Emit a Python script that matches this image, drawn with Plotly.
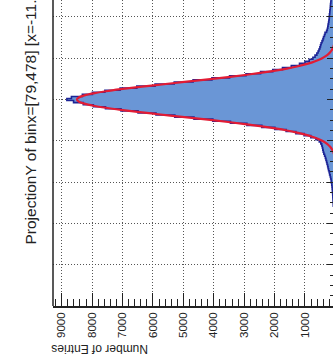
import plotly.graph_objects as go

# ---------------- data ----------------
BIN_WIDTH = 0.05
FIRST_CENTER = -2.60
# histogram counts per bin, from y=-2.60 upward to y=2.45
entries = [
    66, 70, 73, 77, 80, 84, 88, 92, 98, 105,
    112, 120, 130, 140, 155, 170, 190, 205, 225, 240,
    255, 275, 290, 310, 330, 355, 380, 400, 415, 430,
    450, 480, 530, 640, 810, 1030, 1300, 1620, 1990, 2420,
    2910, 3450, 4030, 4650, 5280, 5900, 6490, 7050, 7560, 7960,
    8290, 8610, 8830, 8680, 8320, 7990, 7580, 7080, 6530, 5930,
    5300, 4680, 4060, 3480, 2940, 2460, 2060, 1740, 1450, 1180,
    1000, 860, 740, 670, 610, 570, 540, 510, 490, 470,
    440, 410, 390, 360, 340, 290, 265, 250, 240, 225,
    215, 205, 200, 195, 185, 180, 170, 165, 160, 150,
    145, 140,
]

FIT_START = -1.60
FIT_STEP = 0.05
fit_values = [
    4, 7, 10, 16, 25, 38, 56, 82, 117, 166,
    232, 320, 434, 580, 764, 991, 1267, 1595, 1979, 2419,
    2913, 3457, 4041, 4654, 5281, 5904, 6503, 7058, 7547, 7950,
    8251, 8437, 8500, 8437, 8251, 7950, 7547, 7058, 6503, 5904,
    5281, 4654, 4041, 3457, 2913, 2419, 1979, 1595, 1267, 991,
    764, 580, 434, 320, 232, 166, 117, 82, 56, 38,
    25, 16, 10, 7, 4,
]

x_tick_values = [0, 1000, 2000, 3000, 4000, 5000, 6000, 7000, 8000, 9000]

title_text = "ProjectionY of binx=[79,478] [x=-11.0..8.9]"
value_axis_title = "Number of Entries"

# ---------------- derived positions ----------------
centers = [round(FIRST_CENTER + i * BIN_WIDTH, 3) for i in range(len(entries))]
fit_y = [round(FIT_START + i * FIT_STEP, 3) for i in range(len(fit_values))]

FONT = "Liberation Sans, Arial, Helvetica, sans-serif"
INK = "#222222"

fig = go.Figure()

fig.add_trace(go.Scatter(
    x=entries, y=centers, mode="lines",
    line=dict(shape="vhv", color="rgb(28,36,150)", width=1.6),
    fill="tozerox", fillcolor="rgb(106,150,214)",
    hoverinfo="skip", showlegend=False,
))

fig.add_trace(go.Scatter(
    x=fit_values, y=fit_y, mode="lines",
    line=dict(shape="spline", color="rgb(226,28,52)", width=2.2),
    hoverinfo="skip", showlegend=False,
))

fig.update_layout(
    width=333, height=358,
    margin=dict(l=53, r=0, t=0, b=52, pad=0),
    paper_bgcolor="white", plot_bgcolor="white",
    font=dict(family=FONT, color=INK),
    xaxis=dict(
        range=[9286, 79],
        tickmode="array", tickvals=x_tick_values, tickformat="d",
        ticks="inside", ticklen=13, tickwidth=1, tickcolor=INK,
        tickangle=-90, tickfont=dict(family=FONT, size=11.5, color=INK),
        showgrid=True, gridcolor="#555555", griddash="1px,2px", gridwidth=1,
        showline=True, linecolor=INK, linewidth=1.5,
        zeroline=False,
        minor=dict(dtick=200, tick0=0, ticks="inside", ticklen=7,
                   tickwidth=1, tickcolor=INK, showgrid=False),
    ),
    yaxis=dict(
        range=[-5, 2.41], side="right",
        tickmode="linear", tick0=0, dtick=1,
        ticks="inside", ticklen=6, tickwidth=1, tickcolor=INK,
        showticklabels=False,
        showgrid=True, gridcolor="#555555", griddash="1px,2px", gridwidth=1,
        showline=False, zeroline=False,
        minor=dict(dtick=0.25, tick0=0, ticks="inside", ticklen=3,
                   tickwidth=1, tickcolor=INK, showgrid=False),
    ),
    shapes=[dict(type="line", xref="paper", yref="paper",
                 x0=0, x1=0, y0=0, y1=1,
                 line=dict(color=INK, width=1.5))],
    annotations=[
        dict(text=title_text, textangle=-90, showarrow=False,
             xref="paper", yref="paper",
             x=(29.5 - 53) / 280, y=(306 - 247) / 306,
             xanchor="center", yanchor="bottom",
             font=dict(family=FONT, size=15.5, color=INK)),
        dict(text=value_axis_title, textangle=180, showarrow=False,
             xref="paper", yref="paper",
             x=(100 - 53) / 280, y=(306 - 349) / 306,
             xanchor="center", yanchor="middle",
             font=dict(family=FONT, size=12, color=INK)),
    ],
)

fig.write_html("out.html")
